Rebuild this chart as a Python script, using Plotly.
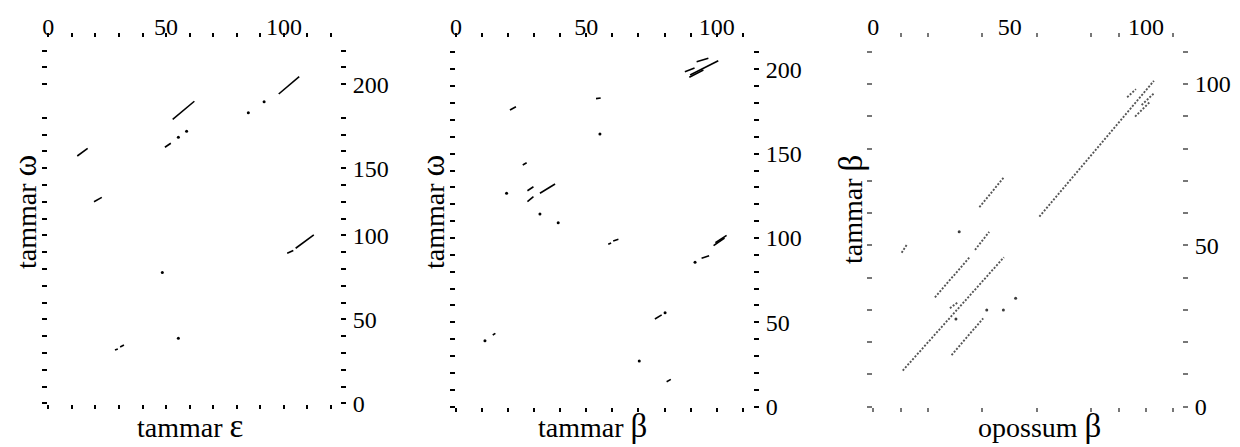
import plotly.graph_objects as go

# The page body adds an 8px margin, so the figure is laid out 8px up/left of the screen positions
OFF = 8
FIG_W, FIG_H = 1240 - OFF, 447 - OFF
FONT = "Liberation Serif"

# ---------------- Panel 1: tammar ε (x) vs tammar ω (y) ----------------
p1_seg_x0 = [97.8, 52.8, 49.5, 12.3, 19.4, 101.4, 105.0, 28.3, 30.5]
p1_seg_y0 = [184.1, 169.0, 152.4, 147.2, 120.0, 89.3, 92.3, 31.7, 33.5]
p1_seg_x1 = [106.5, 62.0, 52.0, 16.7, 22.7, 104.0, 112.7, 29.5, 32.1]
p1_seg_y1 = [194.4, 179.8, 154.8, 151.8, 122.6, 90.9, 100.2, 32.3, 34.7]
p1_dot_x = [91.6, 84.9, 58.7, 55.2, 48.4, 55.2]
p1_dot_y = [179.5, 173.0, 162.0, 158.3, 77.8, 38.7]
p1_xticks = list(range(0, 121, 10))
p1_yticks = [v for v in range(0, 211, 10) if v != 180]
p1_xlabel_vals = [0, 50, 100]
p1_xlabel_text = ["0", "50", "100"]
p1_ylabel_vals = [0, 50, 100, 140, 190]
p1_ylabel_text = ["0", "50", "100", "150", "200"]

# ---------------- Panel 2: tammar β (x) vs tammar ω (y) ----------------
p2_seg_x0 = [87.8, 92.3, 89.8, 89.5, 20.7, 53.7, 25.6, 27.4, 32.2, 27.4, 58.4, 60.3,
             98.8, 99.5, 94.2, 14.1, 76.3, 80.8]
p2_seg_y0 = [198.5, 204.5, 196.6, 195.3, 175.9, 182.6, 143.3, 128.0, 126.5, 121.5, 96.3, 98.2,
             95.5, 97.2, 88.0, 42.5, 52.0, 14.8]
p2_seg_x1 = [91.5, 96.8, 100.6, 94.9, 23.0, 55.5, 27.1, 29.7, 38.0, 29.7, 59.5, 62.3,
             103.0, 103.8, 97.1, 15.1, 78.9, 82.4]
p2_seg_y1 = [200.8, 206.5, 205.1, 199.6, 177.8, 183.0, 144.6, 130.4, 132.0, 124.5, 97.0, 99.2,
             100.0, 101.6, 89.5, 43.5, 54.4, 16.2]
p2_dot_x = [55.2, 19.4, 32.2, 39.2, 91.7, 11.1, 80.2, 70.3]
p2_dot_y = [161.6, 126.5, 114.2, 109.1, 85.6, 39.1, 55.7, 27.1]
p2_xticks = list(range(0, 111, 10))
p2_yticks = list(range(0, 211, 10))
p2_xlabel_vals = [0, 50, 100]
p2_xlabel_text = ["0", "50", "100"]
p2_ylabel_vals = [0, 50, 100, 150, 200]
p2_ylabel_text = ["0", "50", "100", "150", "200"]

# ---------------- Panel 3: opossum β (x) vs tammar β (y) ----------------
p3_seg_x0 = [10.8, 22.6, 37.3, 28.7, 10.4, 38.9, 60.9, 93.1, 98.4, 96.0, 28.1]
p3_seg_y0 = [11.2, 33.9, 48.6, 16.0, 47.7, 61.8, 58.9, 95.9, 93.5, 89.9, 30.5]
p3_seg_x1 = [47.9, 35.5, 42.5, 40.3, 12.2, 47.9, 102.9, 96.3, 102.9, 101.5, 31.2]
p3_seg_y1 = [46.3, 46.5, 54.2, 27.4, 50.1, 71.1, 101.0, 98.4, 97.1, 94.5, 32.5]
p3_dot_x = [31.5, 41.6, 47.7, 52.2, 30.3]
p3_dot_y = [54.2, 30.0, 30.0, 33.6, 27.2]
p3_xticks_bottom = [0, 10, 20, 40, 60, 80, 90, 100, 110]
p3_xticks_top = [10, 20, 40, 60, 80, 90, 100, 110]
p3_yticks = list(range(0, 111, 10))
p3_xlabel_vals = [0, 50, 100]
p3_xlabel_text = ["0", "50", "100"]
p3_ylabel_vals = [0, 50, 100]
p3_ylabel_text = ["0", "50", "100"]


def seg_path(x0, y0, x1, y1):
    xs, ys = [], []
    for a, b, c, d in zip(x0, y0, x1, y1):
        xs += [a, c, None]
        ys += [b, d, None]
    return xs, ys


def frame(px_l, px_r, px_t, px_b, ox, sx, oy, sy):
    xdom = [(px_l - OFF) / FIG_W, (px_r - OFF) / FIG_W]
    ydom = [1 - (px_b - OFF) / FIG_H, 1 - (px_t - OFF) / FIG_H]
    xr = [(px_l - ox) / sx, (px_r - ox) / sx]
    yr = [(oy - px_b) / sy, (oy - px_t) / sy]
    return xdom, ydom, xr, yr


fig = go.Figure()
layout = dict(
    template="none",
    width=FIG_W, height=FIG_H, margin=dict(l=0, r=0, t=0, b=0, pad=0, autoexpand=False),
    paper_bgcolor="white", plot_bgcolor="white", showlegend=False,
    font=dict(family=FONT, color="black"),
)

panels = [
    dict(seg=(p1_seg_x0, p1_seg_y0, p1_seg_x1, p1_seg_y1), dots=(p1_dot_x, p1_dot_y),
         fr=(48, 340, 37.5, 404, 48.3, 2.356, 403.3, 1.68),
         xt_bot=p1_xticks, xt_top=p1_xticks, yt=p1_yticks,
         xl=(p1_xlabel_vals, p1_xlabel_text), yl=(p1_ylabel_vals, p1_ylabel_text),
         style="solid", tickcolor="black"),
    dict(seg=(p2_seg_x0, p2_seg_y0, p2_seg_x1, p2_seg_y1), dots=(p2_dot_x, p2_dot_y),
         fr=(455.5, 753, 37.5, 407, 456.0, 2.607, 406.7, 1.687),
         xt_bot=p2_xticks, xt_top=p2_xticks, yt=p2_yticks,
         xl=(p2_xlabel_vals, p2_xlabel_text), yl=(p2_ylabel_vals, p2_ylabel_text),
         style="solid", tickcolor="black"),
    dict(seg=(p3_seg_x0, p3_seg_y0, p3_seg_x1, p3_seg_y1), dots=(p3_dot_x, p3_dot_y),
         fr=(872.8, 1182, 37.5, 407, 873.3, 2.727, 406.7, 3.227),
         xt_bot=p3_xticks_bottom, xt_top=p3_xticks_top, yt=p3_yticks,
         xl=(p3_xlabel_vals, p3_xlabel_text), yl=(p3_ylabel_vals, p3_ylabel_text),
         style="dot", tickcolor="#777777"),
]

tickfont = dict(family=FONT, size=24, color="black")

for i, p in enumerate(panels):
    bx = 2 * i + 1
    tx = 2 * i + 2
    xdom, ydom, xr, yr = frame(*p["fr"])
    xs, ys = seg_path(*p["seg"])
    xa = "x" if bx == 1 else f"x{bx}"
    ya = "y" if bx == 1 else f"y{bx}"
    if p["style"] == "solid":
        fig.add_trace(go.Scatter(x=xs, y=ys, mode="lines", xaxis=xa, yaxis=ya,
                                 line=dict(color="black", width=1.6), hoverinfo="skip"))
        fig.add_trace(go.Scatter(x=p["dots"][0], y=p["dots"][1], mode="markers", xaxis=xa, yaxis=ya,
                                 marker=dict(color="black", size=3), hoverinfo="skip"))
    else:
        fig.add_trace(go.Scatter(x=xs, y=ys, mode="lines", xaxis=xa, yaxis=ya,
                                 line=dict(color="rgba(55,55,55,0.85)", width=1.9, dash="2px,1.6px"),
                                 hoverinfo="skip"))
        fig.add_trace(go.Scatter(x=p["dots"][0], y=p["dots"][1], mode="markers", xaxis=xa, yaxis=ya,
                                 marker=dict(color="rgba(40,40,40,0.9)", size=3), hoverinfo="skip"))
    # dummy traces so the overlay axes get rendered
    fig.add_trace(go.Scatter(x=[], y=[], xaxis=f"x{tx}", yaxis=ya, hoverinfo="skip"))
    fig.add_trace(go.Scatter(x=[], y=[], xaxis=xa, yaxis=f"y{tx}", hoverinfo="skip"))

    tc = p["tickcolor"]
    xl_vals, xl_text = p["xl"]
    yl_vals, yl_text = p["yl"]
    top_major_color = tc if p["style"] == "solid" else "rgba(0,0,0,0)"

    common = dict(showgrid=False, zeroline=False, showline=False, automargin=False,
                  fixedrange=True)
    layout[f"xaxis{bx}"] = dict(
        domain=xdom, range=xr, anchor=ya, **common,
        tickmode="array", tickvals=p["xt_bot"], ticks="outside", ticklen=4, tickwidth=2,
        tickcolor=tc, showticklabels=False,
    )
    layout[f"xaxis{tx}"] = dict(
        overlaying=xa, side="top", anchor=ya, range=xr, **common,
        tickmode="array", tickvals=xl_vals, ticktext=xl_text,
        ticks="outside", ticklen=4, tickwidth=2, tickcolor=top_major_color,
        tickfont=tickfont, ticklabelstandoff=-12,
        minor=dict(tickvals=[v for v in p["xt_top"] if v not in xl_vals], ticks="outside",
                   ticklen=4, tickwidth=2, tickcolor=tc, showgrid=False),
    )
    layout[f"yaxis{bx}"] = dict(
        domain=ydom, range=yr, anchor=xa, **common,
        tickmode="array", tickvals=p["yt"], ticks="outside", ticklen=5, tickwidth=1.5,
        tickcolor=tc, showticklabels=False,
    )
    layout[f"yaxis{tx}"] = dict(
        overlaying=ya, side="right", anchor=xa, range=yr, **common,
        tickmode="array", tickvals=yl_vals, ticktext=yl_text,
        ticks="outside", ticklen=5, tickwidth=1.5, tickcolor=tc,
        tickfont=tickfont, ticklabelstandoff=2,
        minor=dict(tickvals=[v for v in p["yt"] if v not in yl_vals], ticks="outside",
                   ticklen=5, tickwidth=1.5, tickcolor=tc, showgrid=False),
    )

G = '<span style="font-size:33px">{}</span>'
titles = [
    ("tammar " + G.format("ε"), 190, 426, 0),
    ("tammar " + G.format("ω"), 25, 212, -90),
    ("tammar " + G.format("β"), 592, 426, 0),
    ("tammar " + G.format("ω"), 433, 212, -90),
    ("opossum " + G.format("β"), 1039, 426, 0),
    ("tammar " + G.format("β"), 851, 210, -90),
]
annotations = []
for text, px, py, ang in titles:
    annotations.append(dict(
        text=text, xref="paper", yref="paper",
        x=(px - OFF) / FIG_W, y=1 - (py - OFF) / FIG_H,
        xanchor="center", yanchor="middle", showarrow=False, textangle=ang,
        font=dict(family=FONT, size=28, color="black"),
    ))
layout["annotations"] = annotations

fig.update_layout(**layout)
fig.write_html("out.html")
